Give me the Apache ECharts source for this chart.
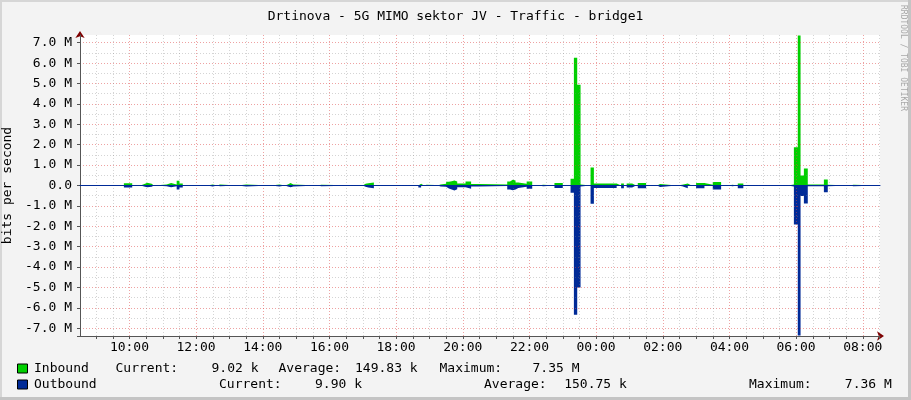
<!DOCTYPE html>
<html><head><meta charset="utf-8">
<script src="https://cdn.jsdelivr.net/npm/echarts@6/dist/echarts.min.js"></script>
<style>html,body{margin:0;padding:0;background:#f3f3f3}#c{width:911px;height:400px}</style>
</head><body><div id="c"></div>
<script>
// ---------------- data ----------------
const chartTitle = 'Drtinova - 5G MIMO sektor JV - Traffic - bridge1';
const yAxisName = 'bits per second';
const watermark = 'RRDTOOL / TOBI OETIKER';
const rangeStart = '08:31';          // 24 h window
const yLimitM = 7.38;                // axis extent, Mbit/s
// step data: each value holds from its time until the next time
const times = ['08:31','09:50','10:05','10:20','10:28','10:32','10:40','10:44','11:07','11:15','11:25','11:30','11:36',
  '12:20','12:30','12:38','12:43','13:15','13:30','14:15','14:30','14:40','14:45','14:50','14:55','15:40','15:45',
  '17:00','17:05','17:10','17:20','18:40','18:45','18:50','18:55','19:10','19:15','19:20','19:30','19:35','19:40',
  '19:45','19:50','20:05','20:15','20:30','21:20','21:25','21:30','21:35','21:40','21:55','22:05','22:15','22:25',
  '22:45','23:00','23:14','23:20','23:26','23:32','23:35','23:50','23:56','00:37','00:40','00:45','00:50','00:55',
  '01:05','01:10','01:15','01:30','01:50','01:55','02:25','02:35','02:45','02:50','03:00','03:15','03:30','03:45',
  '04:00','04:05','04:15','04:25','05:45','05:56','06:03','06:08','06:14','06:21','06:50','06:57','07:00','07:38',
  '07:43','08:30'];
const inboundM = [0,0.11,0,0.09,0.13,0.09,0,0.05,0.12,0.05,0.23,0.10,0,
  0.05,0,0.05,0,0.05,0,0.05,0,0.05,0.12,0.05,0,0.04,0,
  0.08,0.11,0.15,0,0.08,0,0.04,0.02,0,0.05,0.08,0.18,0.21,0.25,
  0.20,0.10,0.20,0.07,0.05,0.20,0.28,0.25,0.15,0.08,0.20,0,0.04,0,
  0.12,0,0.33,6.27,4.94,0.05,0,0.88,0.10,0.03,0,0.10,0,0.10,
  0.03,0,0.12,0,0.07,0,0.04,0.10,0.03,0,0.12,0.04,0.17,0,
  0.04,0,0.10,0,0.05,1.88,7.35,0.49,0.83,0.05,0.30,0.04,0,0.04,
  0,0];
const outboundM = [0,0.10,0,0.06,0.09,0.06,0,0.04,0.08,0.04,0.20,0.10,0,
  0.05,0,0.04,0,0.05,0,0.05,0,0.05,0.08,0.05,0,0.04,0,
  0.06,0.10,0.13,0,0.10,0,0.03,0.01,0,0.05,0.06,0.15,0.20,0.24,
  0.18,0.08,0.16,0.05,0.03,0.20,0.23,0.20,0.12,0.06,0.16,0,0.04,0,
  0.12,0,0.36,6.34,5.00,0.05,0,0.90,0.12,0.02,0,0.13,0,0.10,
  0.02,0,0.13,0,0.07,0,0.04,0.13,0.02,0,0.13,0.03,0.20,0,
  0.04,0,0.13,0,0.05,1.91,7.36,0.52,0.88,0.04,0.33,0.04,0,0.04,
  0,0];
const seriesNames = ['Inbound', 'Outbound'];
const inboundLegend = ['Current:', '9.02 k', 'Average:', '149.83 k', 'Maximum:', '7.35 M'];
const outboundLegend = ['Current:', '9.90 k', 'Average:', '150.75 k', 'Maximum:', '7.36 M'];

// ---------------- styles / layout ----------------
const MONO = 'DejaVu Sans Mono';
const C_IN = '#00CF00', C_OUT = '#002A97';
const C_MINOR = 'rgba(128,128,128,0.34)', C_MAJOR = 'rgba(222,70,70,0.5)';
const C_AXIS = '#555555', C_ARROW = '#7F0000';
const legendX1 = [116, 212, 279, 355.5, 440, 533];
const legendX2 = [219.5, 315.5, 484.5, 564.7, 749.5, 845.3];

const xMin = (function(){ const p = rangeStart.split(':').map(Number); return p[0] + p[1] / 60; })();
const xMax = xMin + 24;
function toHours(s) {
  const p = s.split(':').map(Number);
  let v = p[0] + p[1] / 60;
  if (v < xMin - 1e-9) v += 24;
  return v;
}
const inData = times.map((t, i) => [toHours(t), inboundM[i] * 1e6]);
const outData = times.map((t, i) => [toHours(t), -outboundM[i] * 1e6]);

function pad(n){ return (n < 10 ? '0' : '') + n; }
function xLabel(v) {
  const r = Math.round(v * 2) / 2;
  if (Math.abs(v - r) > 1e-6) return '';
  if (Math.abs(r - Math.round(r)) > 1e-6) return '';
  const h = Math.round(r);
  if (h % 2 !== 0) return '';
  return pad(h % 24) + ':00';
}
function yLabel(v) {
  const m = v / 1e6;
  if (Math.abs(m - Math.round(m)) > 1e-6) return '';
  const r = Math.round(m);
  if (r === 0) return '0.0';
  return r.toFixed(1) + ' M';
}

const fontBase = { fontFamily: MONO, fontSize: 13, color: '#000' };
const chart = echarts.init(document.getElementById('c'), null, { renderer: 'canvas' });

const graphics = [
  { type: 'rect', shape: { x: 0, y: 0, width: 911, height: 2 }, style: { fill: '#d6d6d6' }, silent: true },
  { type: 'rect', shape: { x: 0, y: 0, width: 2, height: 400 }, style: { fill: '#d6d6d6' }, silent: true },
  { type: 'rect', shape: { x: 908, y: 0, width: 3, height: 400 }, style: { fill: '#c4c4c4' }, silent: true },
  { type: 'rect', shape: { x: 0, y: 397, width: 911, height: 3 }, style: { fill: '#c4c4c4' }, silent: true },
  { type: 'text', x: 903, y: 5, rotation: -Math.PI / 2, silent: true,
    style: { text: watermark, font: '8px "' + MONO + '"', fill: '#a8a8a8', align: 'left', verticalAlign: 'middle' } }
];
const rows = [[inboundLegend, legendX1, 368.5], [outboundLegend, legendX2, 384.5]];
rows.forEach((row, r) => {
  const y = row[2];
  graphics.push({ type: 'rect', shape: { x: 17.5, y: y - 4.5, width: 10, height: 9 },
    style: { fill: r === 0 ? C_IN : C_OUT, stroke: '#000', lineWidth: 1 }, silent: true });
  graphics.push({ type: 'text', x: 34, y: y, silent: true,
    style: { text: seriesNames[r], font: '13px "' + MONO + '"', fill: '#000', align: 'left', verticalAlign: 'middle' } });
  row[0].forEach((txt, i) => {
    graphics.push({ type: 'text', x: row[1][i] - 0.5, y: y, silent: true,
      style: { text: txt, font: '13px "' + MONO + '"', fill: '#000', align: 'left', verticalAlign: 'middle' } });
  });
});

const option = {
  animation: false,
  backgroundColor: '#f3f3f3',
  title: { text: chartTitle, left: 'center', top: 5,
    textStyle: { fontFamily: MONO, fontSize: 13, fontWeight: 'normal', color: '#000' } },
  grid: { left: 80, right: 31, top: 35, bottom: 64, show: true, backgroundColor: '#ffffff', borderWidth: 0,
    containLabel: false, outerBoundsMode: 'none' },
  xAxis: [
    { type: 'value', min: xMin, max: xMax, splitNumber: 48, position: 'bottom', z: 3,
      axisLine: { show: true, onZero: false, lineStyle: { color: C_AXIS, width: 1 } },
      axisTick: { show: true, length: 3, lineStyle: { color: C_AXIS } },
      axisLabel: { formatter: xLabel, margin: 5, showMinLabel: false, showMaxLabel: false, ...fontBase },
      splitLine: { show: true, showMaxLine: false, lineStyle: { color: [C_MINOR, C_MINOR, C_MINOR, C_MAJOR], type: [1, 2], width: 1 } } },
    { type: 'value', min: xMin, max: xMax, position: 'bottom', z: 1,
      axisLine: { show: true, onZero: false, symbol: ['none', 'arrow'], symbolSize: [7, 7], symbolOffset: [0, 4],
        lineStyle: { color: C_ARROW, width: 1 } },
      axisTick: { show: false }, axisLabel: { show: false }, splitLine: { show: false } },
    { type: 'value', min: xMin, max: xMax, position: 'bottom', z: 10,
      axisLine: { show: true, onZero: true, lineStyle: { color: C_OUT, width: 1 } },
      axisTick: { show: false }, axisLabel: { show: false }, splitLine: { show: false } }
  ],
  yAxis: [
    { type: 'value', min: -yLimitM * 1e6, max: yLimitM * 1e6, splitNumber: 30, position: 'left', z: 3,
      name: yAxisName, nameLocation: 'middle', nameGap: 59, nameTextStyle: { ...fontBase },
      axisLine: { show: true, lineStyle: { color: C_AXIS, width: 1 } },
      axisTick: { show: false },
      axisLabel: { formatter: yLabel, margin: 8, showMinLabel: false, showMaxLabel: false, ...fontBase },
      splitLine: { show: true, showMaxLine: false, lineStyle: { color: [C_MINOR, C_MAJOR], type: [1, 2], width: 1 } } },
    { type: 'value', min: -yLimitM * 1e6, max: yLimitM * 1e6, splitNumber: 15, position: 'left', z: 1,
      axisLine: { show: true, symbol: ['none', 'arrow'], symbolSize: [7, 7], symbolOffset: [0, 4],
        lineStyle: { color: C_ARROW, width: 1 } },
      axisTick: { show: true, length: 3, lineStyle: { color: C_AXIS } },
      axisLabel: { show: false }, splitLine: { show: false } }
  ],
  series: [
    { name: seriesNames[0], type: 'line', step: 'end', data: inData, showSymbol: false, symbol: 'none',
      lineStyle: { width: 0 }, areaStyle: { color: C_IN, opacity: 1 }, z: 2 },
    { name: seriesNames[1], type: 'line', step: 'end', data: outData, showSymbol: false, symbol: 'none',
      lineStyle: { width: 0 }, areaStyle: { color: C_OUT, opacity: 1 }, z: 2 }
  ],
  graphic: graphics
};
chart.setOption(option);
</script></body></html>
